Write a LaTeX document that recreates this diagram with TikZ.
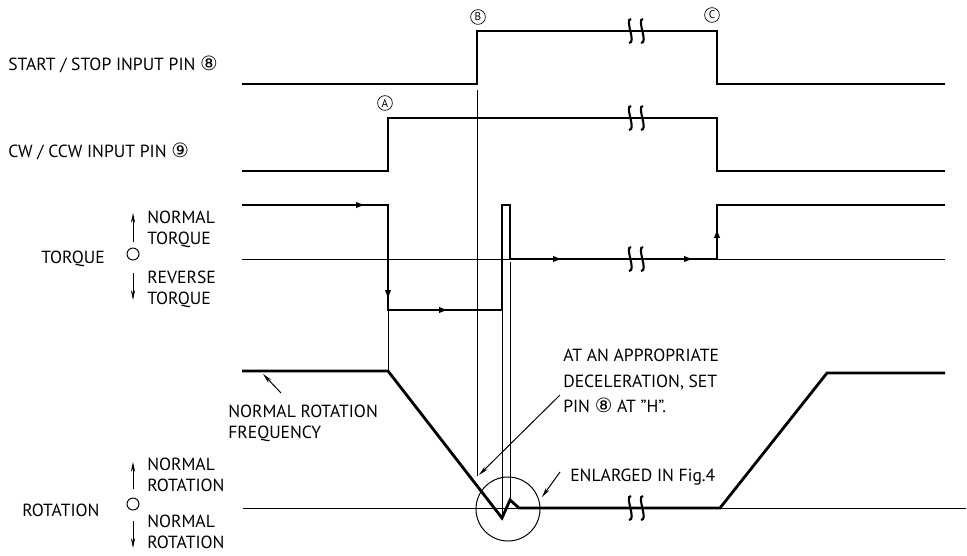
\documentclass[tikz,border=0pt]{standalone}
\usepackage{fontspec}
\setmainfont{PT Sans}
\newfontfamily\circfont{DejaVu Sans}
\usetikzlibrary{arrows.meta}
\definecolor{inkblack}{RGB}{0,0,0}
\newcommand{\cn}[1]{{\circfont\fontsize{14}{14}\selectfont #1}}
% break symbol on a signal line
\newcommand{\breakmark}[2]{%
  \draw[inkblack,line width=1.5pt] (#1-3,#2-12) .. controls (#1-10,#2-12) and (#1+3,#2+12) .. (#1-5,#2+12);
  \draw[inkblack,line width=1.5pt] (#1+9,#2-12) .. controls (#1+2,#2-12) and (#1+15,#2+12) .. (#1+7,#2+12);}

\begin{document}
\begin{tikzpicture}[x=0.025cm,y=-0.025cm,
  sig/.style={inkblack,line width=2pt,line join=miter},
  thinline/.style={inkblack,line width=0.7pt},
  lbl/.style={font=\fontsize{12.5}{15}\selectfont,align=left,inner sep=0pt},
  eventmark/.style={draw=inkblack,line width=0.5pt,circle,inner sep=0pt,minimum size=10.5pt,font=\fontsize{8}{8}\selectfont},
  tip/.style={inkblack,line width=2pt,-{Latex[length=7pt,width=4.5pt]}},
  lead/.style={inkblack,line width=0.7pt,-{Stealth[length=7pt,width=3pt]}}]
\useasboundingbox (0,0) rectangle (967,555);
% Row labels
\node[lbl,anchor=west] (startlbl) at (8,64) {START / STOP INPUT PIN \cn{⑧}};
\node[lbl,anchor=west] (cwlbl) at (8,151) {CW / CCW INPUT PIN \cn{⑨}};
\node[lbl,anchor=west] (torquelbl) at (41,259) {TORQUE};
\node[lbl,anchor=west] (rotlbl) at (22,510) {ROTATION};
% Torque direction legend
\draw[thinline] (133,254) circle (6);
\draw[lead] (133,242) -- (133,213);
\draw[lead] (133,273) -- (133,300);
\node[lbl,anchor=west] (normtq) at (147,229) {NORMAL\\TORQUE};
\node[lbl,anchor=west] (revtq) at (147,289) {REVERSE\\TORQUE};
% Rotation direction legend
\draw[thinline] (133,504) circle (6);
\draw[lead] (133,489) -- (133,462);
\draw[lead] (133,521) -- (133,548);
\node[lbl,anchor=west] (normrot) at (147,475) {NORMAL\\ROTATION};
\node[lbl,anchor=west] (revrot) at (147,532) {NORMAL\\ROTATION};
% Event marks
\node[eventmark] (evA) at (385,103) {A};
\node[eventmark] (evB) at (478,17) {B};
\node[eventmark] (evC) at (712,15) {C};
% Reference lines
\draw[thinline] (242,259) -- (945,259);
\draw[thinline] (243,508) -- (966,508);
\draw[thinline] (477,90) -- (477,476);
\draw[thinline] (388,310) -- (388,371);
\draw[thinline] (502,310) -- (502,518);
\draw[thinline] (510,262) -- (510,500);
% Start/stop pin 8
\draw[sig] (242,84) -- (477,84) -- (477,31) -- (717,31) -- (717,84) -- (945,84);
\breakmark{634}{31}
% CW/CCW pin 9
\draw[sig] (242,171) -- (388,171) -- (388,118) -- (717,118) -- (717,171) -- (945,171);
\breakmark{634}{118}
% Torque
\draw[sig] (242,205) -- (388,205) -- (388,310) -- (502,310) -- (502,205) -- (510,205) -- (510,259) -- (717,259) -- (717,205) -- (945,205);
\draw[tip] (350,205) -- (366,205);
\draw[tip] (388,285) -- (388,300);
\draw[tip] (433,310) -- (449,310);
\draw[tip] (547,259) -- (563,259);
\draw[tip] (678,259) -- (694,259);
\draw[tip] (717,245) -- (717,228);
\breakmark{634}{259}
% Rotation
\draw[sig] (242,371) -- (388,371) -- (502,518) -- (510,500) -- (519,508) -- (720,508) -- (827,373) -- (945,373);
\breakmark{634}{508}
\draw[thinline] (508,509) circle (32);
% Notes
\node[lbl,anchor=west] (freqlbl) at (228,423) {NORMAL ROTATION\\FREQUENCY};
\coordinate (freqtail) at (281,393);
\coordinate (freqtip) at (263,374);
\draw[lead] (freqtail) -- (freqtip);
\node[lbl,anchor=west,font=\fontsize{12.5}{18}\selectfont] (decel) at (563,381) {AT AN APPROPRIATE\\DECELERATION, SET\\PIN \cn{⑧} AT ”H”.};
\coordinate (deceltip) at (479,475);
\draw[lead] (560,395) -- (deceltip);
\node[lbl,anchor=west] (enlarge) at (570,477) {ENLARGED IN Fig.4};
\coordinate (enltip) at (542,497);
\draw[lead] (560,472) -- (enltip);
\end{tikzpicture}
\end{document}
